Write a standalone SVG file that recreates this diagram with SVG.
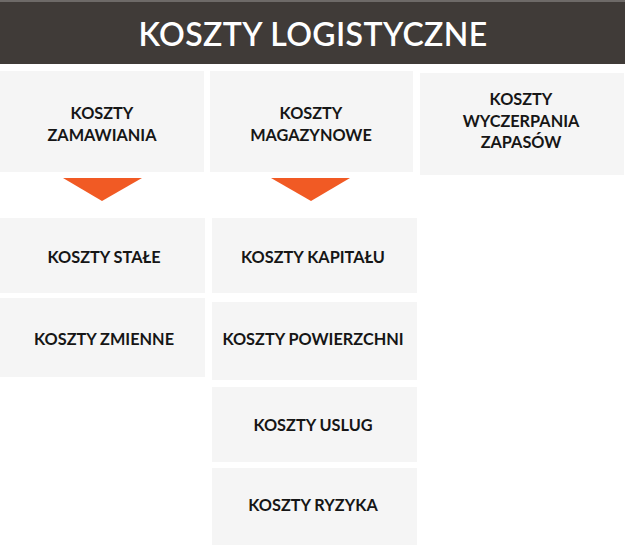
<svg xmlns="http://www.w3.org/2000/svg" width="625" height="545" viewBox="0 0 625 545">
<style>
.box{fill:#f5f5f5}
.lbl{font-family:Lato,"Liberation Sans",sans-serif;font-weight:bold;font-size:16.3px;fill:#161616;text-anchor:middle}
.hdr{font-family:Lato,"Liberation Sans",sans-serif;font-weight:600;font-size:32px;letter-spacing:0.4px;fill:#ffffff;text-anchor:middle}
.tri{fill:#f15a24}
</style>
<rect width="625" height="545" fill="#ffffff"/>
<g id="header">
<rect x="0" y="0" width="625" height="64" fill="#403b38"/>
<rect x="0" y="0" width="625" height="2" fill="#6e6a68"/>
<text class="hdr" x="313" y="46">KOSZTY LOGISTYCZNE</text>
</g>
<g id="zamawiania">
<rect class="box" x="0" y="71" width="204" height="101"/>
<text class="lbl" x="102" y="119">KOSZTY</text>
<text class="lbl" x="102" y="141">ZAMAWIANIA</text>
</g>
<g id="magazynowe">
<rect class="box" x="210" y="71" width="203" height="101"/>
<text class="lbl" x="311" y="119">KOSZTY</text>
<text class="lbl" x="311" y="141">MAGAZYNOWE</text>
</g>
<g id="wyczerpania">
<rect class="box" x="420" y="73" width="204" height="102"/>
<text class="lbl" x="521" y="105">KOSZTY</text>
<text class="lbl" x="521" y="127">WYCZERPANIA</text>
<text class="lbl" x="521" y="148">ZAPASÓW</text>
</g>
<g id="connectors">
<polygon class="tri" points="63,178 142,178 102,201"/>
<polygon class="tri" points="271,178 350,178 311,201"/>
</g>
<g id="stale">
<rect class="box" x="0" y="218" width="205" height="75"/>
<text class="lbl" x="104" y="263">KOSZTY STAŁE</text>
</g>
<g id="zmienne">
<rect class="box" x="0" y="298" width="205" height="79"/>
<text class="lbl" x="104" y="345">KOSZTY ZMIENNE</text>
</g>
<g id="kapitalu">
<rect class="box" x="212" y="218" width="205" height="75"/>
<text class="lbl" x="313" y="263">KOSZTY KAPITAŁU</text>
</g>
<g id="powierzchni">
<rect class="box" x="212" y="302" width="205" height="78"/>
<text class="lbl" x="313" y="345">KOSZTY POWIERZCHNI</text>
</g>
<g id="uslug">
<rect class="box" x="212" y="387" width="205" height="75"/>
<text class="lbl" x="313" y="431">KOSZTY USLUG</text>
</g>
<g id="ryzyka">
<rect class="box" x="212" y="468" width="205" height="77"/>
<text class="lbl" x="313" y="511">KOSZTY RYZYKA</text>
</g>
</svg>
